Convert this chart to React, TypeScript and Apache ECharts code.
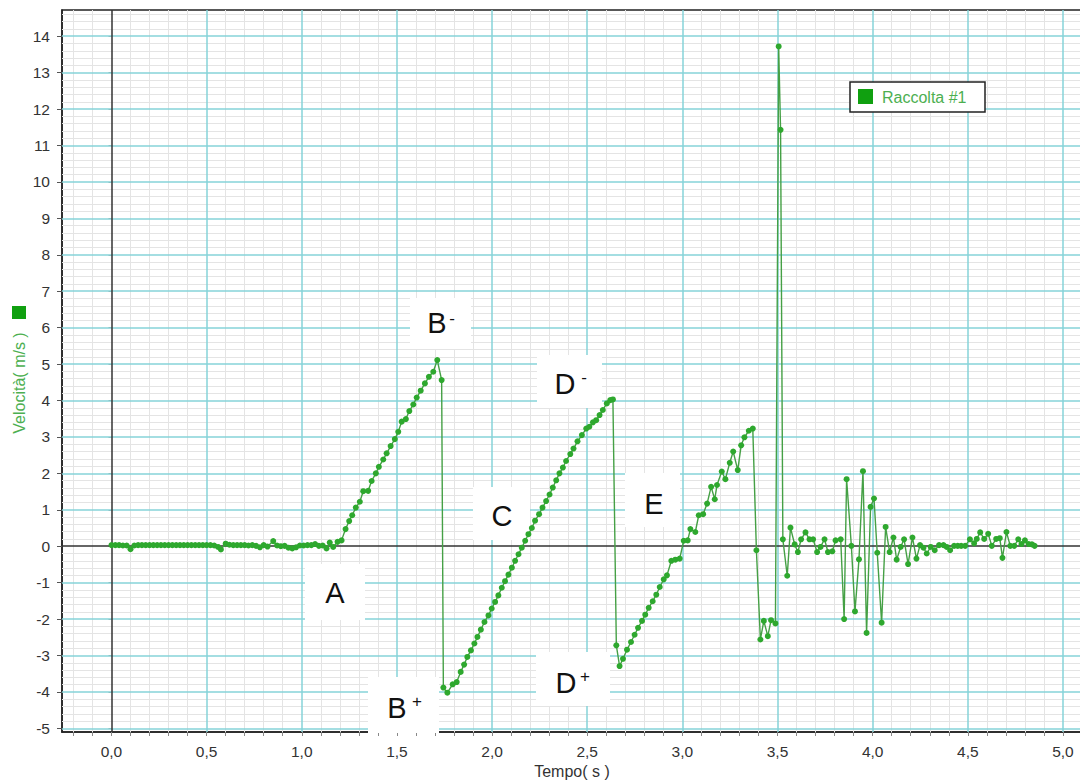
import React, { useEffect, useRef } from "react";
import * as echarts from "echarts";

// Velocity samples [time (s), velocity (m/s)] split by phase of the motion.
const restPhase: [number, number][] = [
  [0.0, 0.03], [0.02, 0.03], [0.04, 0.03], [0.06, 0.02], [0.08, 0.02], [0.1, -0.08],
  [0.12, 0.02], [0.14, 0.03], [0.16, 0.03], [0.18, 0.03], [0.2, 0.03], [0.22, 0.03],
  [0.24, 0.03], [0.26, 0.03], [0.28, 0.03], [0.3, 0.03], [0.32, 0.03], [0.34, 0.03],
  [0.36, 0.03], [0.38, 0.03], [0.4, 0.03], [0.42, 0.03], [0.44, 0.03], [0.46, 0.03],
  [0.48, 0.03], [0.5, 0.03], [0.52, 0.03], [0.54, 0.02], [0.56, -0.02], [0.575, -0.09],
  [0.6, 0.07], [0.62, 0.04], [0.64, 0.03], [0.66, 0.03], [0.68, 0.03], [0.7, 0.03],
  [0.72, 0.02], [0.74, 0.03], [0.76, 0.01], [0.78, -0.03], [0.8, 0.03], [0.82, -0.01],
  [0.85, 0.14], [0.87, 0.02], [0.89, 0.0], [0.91, 0.01], [0.93, -0.04], [0.95, -0.06],
  [0.97, -0.03], [0.99, 0.02], [1.01, 0.02], [1.03, 0.03], [1.05, 0.03], [1.07, 0.06],
  [1.09, 0.01], [1.11, 0.02],
];

const firstRise: [number, number][] = [
  [1.13, -0.06], [1.147, 0.1], [1.165, -0.02], [1.188, 0.12], [1.209, 0.16], [1.23, 0.47],
  [1.249, 0.69], [1.265, 0.85], [1.284, 1.06], [1.305, 1.22], [1.323, 1.51], [1.349, 1.52],
  [1.367, 1.79], [1.389, 2.0], [1.405, 2.18], [1.428, 2.38], [1.446, 2.55], [1.467, 2.75],
  [1.489, 2.94], [1.507, 3.14], [1.525, 3.42], [1.547, 3.49], [1.565, 3.71], [1.586, 3.89],
  [1.604, 4.08], [1.625, 4.27], [1.647, 4.47], [1.668, 4.65], [1.691, 4.79], [1.712, 5.11],
  [1.735, 4.56],
];

const secondRise: [number, number][] = [
  [1.744, -3.88], [1.765, -4.02], [1.793, -3.79], [1.814, -3.73], [1.835, -3.45], [1.853, -3.25],
  [1.87, -3.04], [1.889, -2.86], [1.907, -2.67], [1.923, -2.49], [1.941, -2.29], [1.96, -2.08],
  [1.981, -1.9], [1.998, -1.71], [2.016, -1.53], [2.033, -1.35], [2.051, -1.14], [2.068, -0.96],
  [2.086, -0.78], [2.104, -0.59], [2.121, -0.4], [2.139, -0.22], [2.156, -0.04], [2.174, 0.15],
  [2.191, 0.33], [2.209, 0.5], [2.226, 0.7], [2.247, 0.88], [2.265, 1.06], [2.284, 1.24],
  [2.302, 1.42], [2.319, 1.61], [2.337, 1.81], [2.354, 2.0], [2.372, 2.16], [2.389, 2.34],
  [2.411, 2.53], [2.428, 2.68], [2.449, 2.88], [2.472, 3.05], [2.495, 3.23], [2.511, 3.28],
  [2.53, 3.4], [2.547, 3.46], [2.565, 3.6], [2.582, 3.74], [2.603, 3.92], [2.621, 4.01],
  [2.635, 4.03],
];

const thirdRise: [number, number][] = [
  [2.653, -2.72], [2.67, -3.29], [2.688, -3.09], [2.709, -2.84], [2.73, -2.63], [2.749, -2.43],
  [2.767, -2.24], [2.788, -2.05], [2.805, -1.88], [2.823, -1.69], [2.844, -1.51], [2.863, -1.33],
  [2.881, -1.12], [2.902, -0.91], [2.919, -0.8], [2.942, -0.4], [2.963, -0.37], [2.986, -0.34],
  [3.007, 0.15], [3.028, 0.16], [3.042, 0.47], [3.068, 0.39], [3.086, 0.85], [3.109, 0.88],
  [3.13, 1.17], [3.151, 1.63], [3.17, 1.29], [3.182, 1.68], [3.207, 2.05], [3.226, 1.84],
  [3.249, 2.29], [3.267, 2.6], [3.291, 2.09], [3.309, 2.77], [3.326, 2.99], [3.349, 3.17],
  [3.37, 3.23],
];

const bounces: [number, number][] = [
  [3.389, -0.11], [3.41, -2.56], [3.428, -2.05], [3.449, -2.47], [3.466, -2.03], [3.489, -2.12],
  [3.506, 13.72], [3.516, 11.43], [3.528, 0.19], [3.551, -0.81], [3.568, 0.51], [3.59, 0.05],
  [3.607, -0.16], [3.624, 0.19], [3.647, 0.38], [3.668, 0.19], [3.687, 0.19], [3.708, -0.16],
  [3.726, -0.02], [3.747, 0.19], [3.765, -0.16], [3.788, -0.14], [3.805, 0.16], [3.832, 0.19],
  [3.85, -2.0], [3.863, 1.84], [3.888, 0.01], [3.907, -1.79], [3.928, -0.36], [3.949, 2.06],
  [3.968, -2.38], [3.989, 1.08], [4.007, 1.31], [4.024, -0.18], [4.047, -2.1], [4.068, 0.53],
  [4.089, -0.16], [4.109, 0.24], [4.126, -0.37], [4.147, -0.02], [4.165, 0.19], [4.186, -0.49],
  [4.209, 0.24], [4.23, -0.34], [4.249, 0.03], [4.267, -0.04], [4.284, -0.2], [4.305, -0.02],
  [4.326, -0.11], [4.349, 0.03], [4.372, 0.03], [4.389, -0.02], [4.407, -0.11], [4.428, 0.01],
  [4.447, 0.01], [4.465, 0.01], [4.486, 0.01], [4.511, 0.19], [4.533, 0.08], [4.547, 0.2],
  [4.565, 0.38], [4.586, 0.2], [4.607, 0.34], [4.626, 0.01], [4.649, 0.2], [4.668, 0.22],
  [4.682, -0.32], [4.703, 0.39], [4.723, 0.01], [4.744, 0.01], [4.765, 0.19], [4.782, 0.06],
  [4.8, 0.16], [4.82, 0.06], [4.837, 0.05], [4.851, 0.01],
];

const samples = [...restPhase, ...firstRise, ...secondRise, ...thirdRise, ...bounces];

// Axis labels
const xLabelValues = [0, 0.5, 1, 1.5, 2, 2.5, 3, 3.5, 4, 4.5, 5];
const yLabelValues = [-5, -4, -3, -2, -1, 0, 1, 2, 3, 4, 5, 6, 7, 8, 9, 10, 11, 12, 13, 14];

const SERIES_NAME = "Raccolta #1";
const X_NAME = "Tempo( s )";
const Y_NAME = "Velocità( m/s )";

const X_MIN = -0.26;
const X_MAX = 5.1;
const Y_MIN = -5.1;
const Y_MAX = 14.72;

const FONT = "Arial, 'Liberation Sans', sans-serif";

function steps(from: number, to: number, step: number): number[] {
  const out: number[] = [];
  const n = Math.round((to - from) / step);
  for (let i = 0; i <= n; i++) out.push(+(from + i * step).toFixed(3));
  return out;
}
const isMultiple = (v: number, m: number) => Math.abs(v / m - Math.round(v / m)) < 1e-6;

const xTickValues = steps(-0.2, 5.1, 0.1);
const xMinorGrid = xTickValues.filter((v) => !isMultiple(v, 0.5));
const xMajorGrid = steps(0.5, 5.0, 0.5);
const yMinorTicks = steps(-5, 14.6, 0.2);
const yMinorGrid = yMinorTicks.filter((v) => !isMultiple(v, 1));
const yMajorGrid = yLabelValues.filter((v) => v !== 0);

function gridLayer(name: string, xs: number[], ys: number[], color: string, width: number, z: number) {
  return {
    type: "line",
    name,
    data: [],
    silent: true,
    markLine: {
      silent: true,
      z,
      symbol: ["none", "none"],
      label: { show: false },
      emphasis: { disabled: true },
      lineStyle: { color, width, type: "solid" },
      data: [...xs.map((v) => ({ xAxis: v })), ...ys.map((v) => ({ yAxis: v }))],
    },
  };
}

// Letter tags placed over the curve: box, letter and optional superscript sign
const tags = [
  { letter: "A", box: [305, 564, 60, 56], at: [335, 593] },
  { letter: "B", sup: "-", box: [410, 298, 61, 51], at: [437, 323], supAt: [452, 318] },
  { letter: "B", sup: "+", box: [368, 677, 71, 56], at: [397, 708], supAt: [417, 701] },
  { letter: "C", box: [473, 487, 57, 53], at: [502, 516] },
  { letter: "D", sup: "-", box: [537, 355, 65, 53], at: [565, 384], supAt: [584, 377] },
  { letter: "D", sup: "+", box: [536, 652, 74, 54], at: [566, 683], supAt: [585, 676] },
  { letter: "E", box: [625, 473, 55, 54], at: [654, 504] },
];

function tagGraphics() {
  const els: any[] = [];
  tags.forEach((t) => {
    els.push({
      type: "rect",
      z: 5,
      silent: true,
      shape: { x: t.box[0], y: t.box[1], width: t.box[2], height: t.box[3] },
      style: { fill: "#ffffff" },
    });
    els.push({
      type: "text",
      z: 6,
      silent: true,
      x: t.at[0],
      y: t.at[1],
      style: {
        text: t.letter,
        font: `29px ${FONT}`,
        fill: "#111111",
        align: "center",
        verticalAlign: "middle",
      },
    });
    if (t.sup && t.supAt) {
      els.push({
        type: "text",
        z: 6,
        silent: true,
        x: t.supAt[0],
        y: t.supAt[1],
        style: {
          text: t.sup,
          font: `17px ${FONT}`,
          fill: "#111111",
          align: "center",
          verticalAlign: "middle",
        },
      });
    }
  });
  return els;
}

export default function App() {
  const ref = useRef<HTMLDivElement>(null);

  useEffect(() => {
    document.body.style.margin = "0";
    if (!ref.current) return;
    const chart = echarts.init(ref.current, undefined, { renderer: "svg" });

    const option: any = {
      animation: false,
      backgroundColor: "#ffffff",
      grid: {
        left: 62,
        top: 10,
        right: -2,
        bottom: 48,
        show: true,
        backgroundColor: "#ffffff",
        borderColor: "#222222",
        borderWidth: 1.5,
        containLabel: false,
        outerBoundsMode: "none",
      },
      xAxis: [
        {
          type: "value",
          min: X_MIN,
          max: X_MAX,
          name: X_NAME,
          nameLocation: "middle",
          nameGap: 30,
          nameTextStyle: { color: "#333333", fontSize: 16, fontFamily: FONT },
          axisLine: { show: true, onZero: false, lineStyle: { color: "#222222", width: 1.5 } },
          axisTick: { show: true, customValues: xTickValues, length: 4, lineStyle: { color: "#888888" } },
          axisLabel: {
            customValues: xLabelValues,
            formatter: (v: number) => v.toFixed(1).replace(".", ","),
            color: "#333333",
            fontSize: 15.5,
            fontFamily: FONT,
            margin: 11,
          },
          splitLine: { show: false },
        },
      ],
      yAxis: [
        {
          type: "value",
          position: "left",
          min: Y_MIN,
          max: Y_MAX,
          axisLine: { show: true, onZero: false, lineStyle: { color: "#222222", width: 1.5 } },
          axisTick: { show: true, customValues: yLabelValues, length: 5, lineStyle: { color: "#555555" } },
          axisLabel: {
            customValues: yLabelValues,
            color: "#333333",
            fontSize: 15.5,
            fontFamily: FONT,
            margin: 12,
          },
          splitLine: { show: false },
        },
        {
          type: "value",
          position: "left",
          offset: 0,
          min: Y_MIN,
          max: Y_MAX,
          axisLine: { show: false },
          axisTick: { show: true, customValues: yMinorTicks, length: 3, lineStyle: { color: "#999999" } },
          axisLabel: { show: false },
          splitLine: { show: false },
        },
      ],
      series: [
        gridLayer("minor-grid", xMinorGrid, yMinorGrid, "#e4e4e4", 1, 1),
        gridLayer("major-grid", xMajorGrid, yMajorGrid, "#86d3d9", 1.5, 2),
        gridLayer("zero-lines", [0], [0], "#333333", 1.5, 3),
        {
          type: "line",
          name: SERIES_NAME,
          data: samples,
          z: 10,
          symbol: "circle",
          symbolSize: 6,
          showAllSymbol: true,
          itemStyle: { color: "#2ea82e" },
          lineStyle: { color: "#45a045", width: 1.4 },
          emphasis: { disabled: true },
        },
      ],
      graphic: [
        // series key
        {
          type: "rect",
          z: 20,
          shape: { x: 850, y: 82, width: 135, height: 30 },
          style: { fill: "#ffffff", stroke: "#222222", lineWidth: 1.5 },
        },
        {
          type: "rect",
          z: 21,
          shape: { x: 858, y: 89, width: 15, height: 15 },
          style: { fill: "#10a010" },
        },
        {
          type: "text",
          z: 21,
          x: 882,
          y: 97,
          style: {
            text: SERIES_NAME,
            font: `16px ${FONT}`,
            fill: "#4caf50",
            verticalAlign: "middle",
          },
        },
        // y-axis title with its colour marker
        {
          type: "rect",
          z: 21,
          shape: { x: 12, y: 306, width: 14, height: 13 },
          style: { fill: "#10a010" },
        },
        {
          type: "text",
          z: 21,
          x: 19,
          y: 383,
          rotation: Math.PI / 2,
          style: {
            text: Y_NAME,
            font: `16px ${FONT}`,
            fill: "#4caf50",
            align: "center",
            verticalAlign: "middle",
          },
        },
        ...tagGraphics(),
      ],
    };

    chart.setOption(option);
    return () => chart.dispose();
  }, []);

  return <div ref={ref} style={{ width: 1080, height: 780 }} />;
}
